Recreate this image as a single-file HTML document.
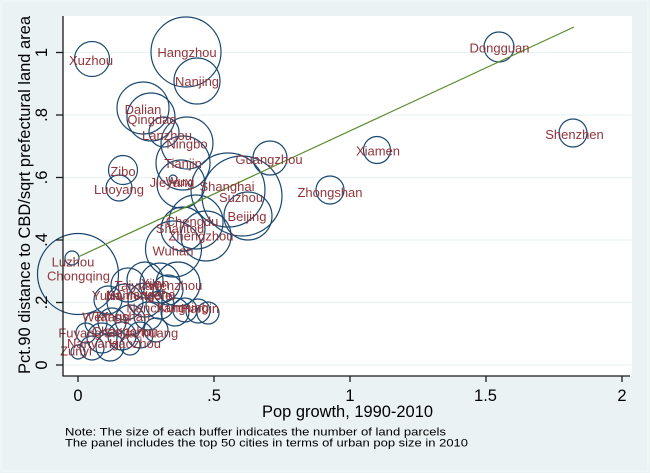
<!DOCTYPE html>
<html><head><meta charset="utf-8"><style>
html,body{margin:0;padding:0;background:#eaf2f3;}
svg{display:block;}
text{font-family:"Liberation Sans",Arial,sans-serif;}
.l{fill:#90353b;font-size:13px;text-anchor:middle;}
.c{fill:none;stroke:#1a476f;stroke-width:1.2;}
</style></head><body>
<svg width="650" height="473" viewBox="0 0 650 473" xmlns="http://www.w3.org/2000/svg">
<rect x="0" y="0" width="650" height="473" fill="#eaf2f3"/>
<rect x="1" y="1" width="647" height="470" fill="none" stroke="#f6f9fa" stroke-width="1"/>
<rect x="63" y="16" width="569" height="360" fill="#ffffff"/>
<g stroke="#eaf2f3" stroke-width="1.3">
<line x1="63" y1="365" x2="632" y2="365"/>
<line x1="63" y1="302.5" x2="632" y2="302.5"/>
<line x1="63" y1="240" x2="632" y2="240"/>
<line x1="63" y1="177.5" x2="632" y2="177.5"/>
<line x1="63" y1="115" x2="632" y2="115"/>
<line x1="63" y1="52.5" x2="632" y2="52.5"/>
</g>
<!-- circles -->
<g class="c">
<circle cx="92" cy="59" r="17.5"/>
<circle cx="186" cy="52" r="35"/>
<circle cx="197" cy="81" r="23"/>
<circle cx="143" cy="108" r="26"/>
<circle cx="151" cy="117" r="24"/>
<circle cx="164" cy="132" r="15"/>
<circle cx="187" cy="143" r="26"/>
<circle cx="183" cy="163" r="27"/>
<circle cx="270" cy="158" r="17"/>
<circle cx="123" cy="170" r="14.5"/>
<circle cx="119" cy="188" r="13"/>
<circle cx="173" cy="179" r="4"/>
<circle cx="181" cy="184" r="24"/>
<circle cx="228" cy="190" r="37"/>
<circle cx="242" cy="196" r="40"/>
<circle cx="248" cy="216" r="24"/>
<circle cx="196" cy="222" r="27"/>
<circle cx="183" cy="229" r="22"/>
<circle cx="206" cy="236" r="25"/>
<circle cx="173.5" cy="249" r="28"/>
<circle cx="330" cy="190" r="14"/>
<circle cx="377" cy="150" r="13.5"/>
<circle cx="499" cy="47" r="15"/>
<circle cx="573" cy="133" r="14"/>
<circle cx="72" cy="258" r="7"/>
<circle cx="78" cy="274" r="40.5"/>
<circle cx="128" cy="285" r="17"/>
<circle cx="145" cy="280" r="18"/>
<circle cx="160" cy="283" r="20"/>
<circle cx="178" cy="284" r="22"/>
<circle cx="168" cy="290" r="15"/>
<circle cx="108" cy="300" r="14"/>
<circle cx="125" cy="302" r="18"/>
<circle cx="145" cy="300" r="17"/>
<circle cx="160" cy="305" r="14"/>
<circle cx="185" cy="310" r="12"/>
<circle cx="198" cy="311" r="12"/>
<circle cx="208" cy="313" r="11"/>
<circle cx="175" cy="312" r="14"/>
<circle cx="148" cy="316" r="14"/>
<circle cx="130" cy="320" r="15"/>
<circle cx="112" cy="322" r="14"/>
<circle cx="96" cy="323" r="11"/>
<circle cx="86" cy="333" r="10"/>
<circle cx="102" cy="338" r="15"/>
<circle cx="122" cy="336" r="14"/>
<circle cx="140" cy="335" r="13"/>
<circle cx="156" cy="330" r="12"/>
<circle cx="92" cy="348" r="12"/>
<circle cx="110" cy="347" r="14"/>
<circle cx="78" cy="352" r="7"/>
<circle cx="130" cy="345" r="10"/>
</g>
<!-- fit line -->
<line x1="78" y1="257" x2="574" y2="27" stroke="#5b8a2e" stroke-width="1.2"/>
<!-- labels -->
<g>
<text class="l" x="91" y="65">Xuzhou</text>
<text class="l" x="187" y="57">Hangzhou</text>
<text class="l" x="197" y="86">Nanjing</text>
<text class="l" x="143" y="114">Dalian</text>
<text class="l" x="152" y="124">Qingdao</text>
<text class="l" x="167" y="140">Lanzhou</text>
<text class="l" x="187" y="148.5">Ningbo</text>
<text class="l" x="183" y="168">Tianjin</text>
<text class="l" x="269" y="164">Guangzhou</text>
<text class="l" x="123" y="176">Zibo</text>
<text class="l" x="119" y="194">Luoyang</text>
<text class="l" x="172" y="187">Jieyang</text>
<text class="l" x="180" y="186">Wuxi</text>
<text class="l" x="227" y="191">Shanghai</text>
<text class="l" x="241" y="202">Suzhou</text>
<text class="l" x="247" y="221">Beijing</text>
<text class="l" x="192" y="226">Chengdu</text>
<text class="l" x="180" y="233">Shantou</text>
<text class="l" x="201" y="240.5">Zhengzhou</text>
<text class="l" x="173" y="255.5">Wuhan</text>
<text class="l" x="330" y="197">Zhongshan</text>
<text class="l" x="378" y="155.5">Xiamen</text>
<text class="l" x="499.5" y="52.5">Dongguan</text>
<text class="l" x="574.5" y="139">Shenzhen</text>
<text class="l" x="73" y="266.5">Luzhou</text>
<text class="l" x="78.5" y="280.5">Chongqing</text>
<text class="l" x="137" y="290">Taiyuan</text>
<text class="l" x="155" y="288">Xi'an</text>
<text class="l" x="175" y="290">Wenzhou</text>
<text class="l" x="106" y="300">Yulin</text>
<text class="l" x="130" y="300">Nanning</text>
<text class="l" x="146" y="299">Changsha</text>
<text class="l" x="160" y="300">Hefei</text>
<text class="l" x="156" y="312.5">Nanchang</text>
<text class="l" x="183" y="312">Kunming</text>
<text class="l" x="200" y="313">Harbin</text>
<text class="l" x="106" y="321.5">Weifang</text>
<text class="l" x="122" y="321">Tangshan</text>
<text class="l" x="80" y="337.5">Fuyang</text>
<text class="l" x="125" y="336">Changchun</text>
<text class="l" x="141" y="337.5">Shijiazhuang</text>
<text class="l" x="93" y="348">Nanyang</text>
<text class="l" x="135" y="348">Haozhou</text>
<text class="l" x="76" y="355.5">Zunyi</text>
</g>
<!-- axes -->
<g stroke="#1a1a1a" stroke-width="1.3">
<line x1="63" y1="16" x2="63" y2="376"/>
<line x1="62.4" y1="376" x2="630" y2="376"/>
<line x1="56" y1="365" x2="63" y2="365"/>
<line x1="56" y1="302.5" x2="63" y2="302.5"/>
<line x1="56" y1="240" x2="63" y2="240"/>
<line x1="56" y1="177.5" x2="63" y2="177.5"/>
<line x1="56" y1="115" x2="63" y2="115"/>
<line x1="56" y1="52.5" x2="63" y2="52.5"/>
<line x1="78" y1="376" x2="78" y2="382"/>
<line x1="214" y1="376" x2="214" y2="382"/>
<line x1="350" y1="376" x2="350" y2="382"/>
<line x1="486" y1="376" x2="486" y2="382"/>
<line x1="622" y1="376" x2="622" y2="382"/>
</g>
<!-- y tick labels -->
<g font-size="16.5" fill="#000" text-anchor="middle">
<text transform="translate(47,365) rotate(-90)">0</text>
<text transform="translate(47,302.5) rotate(-90)">.2</text>
<text transform="translate(47,240) rotate(-90)">.4</text>
<text transform="translate(47,177.5) rotate(-90)">.6</text>
<text transform="translate(47,115) rotate(-90)">.8</text>
<text transform="translate(47,52.5) rotate(-90)">1</text>
</g>
<!-- x tick labels -->
<g font-size="16.5" fill="#000" text-anchor="middle">
<text x="78" y="401">0</text>
<text x="214" y="401">.5</text>
<text x="350" y="401">1</text>
<text x="485.5" y="401">1.5</text>
<text x="622" y="401">2</text>
</g>
<!-- titles -->
<text x="347.5" y="417" font-size="16.5" fill="#000" text-anchor="middle" textLength="171" lengthAdjust="spacingAndGlyphs">Pop growth, 1990-2010</text>
<text transform="translate(30,195) rotate(-90)" font-size="16.5" fill="#000" text-anchor="middle" textLength="358" lengthAdjust="spacingAndGlyphs">Pct.90 distance to CBD/sqrt prefectural land area</text>
<!-- note -->
<text x="65" y="435.5" font-size="11" fill="#000" textLength="381" lengthAdjust="spacingAndGlyphs">Note: The size of each buffer indicates the number of land parcels</text>
<text x="65" y="446.5" font-size="11" fill="#000" textLength="403" lengthAdjust="spacingAndGlyphs">The panel includes the top 50 cities in terms of urban pop size in 2010</text>
</svg>
</body></html>
